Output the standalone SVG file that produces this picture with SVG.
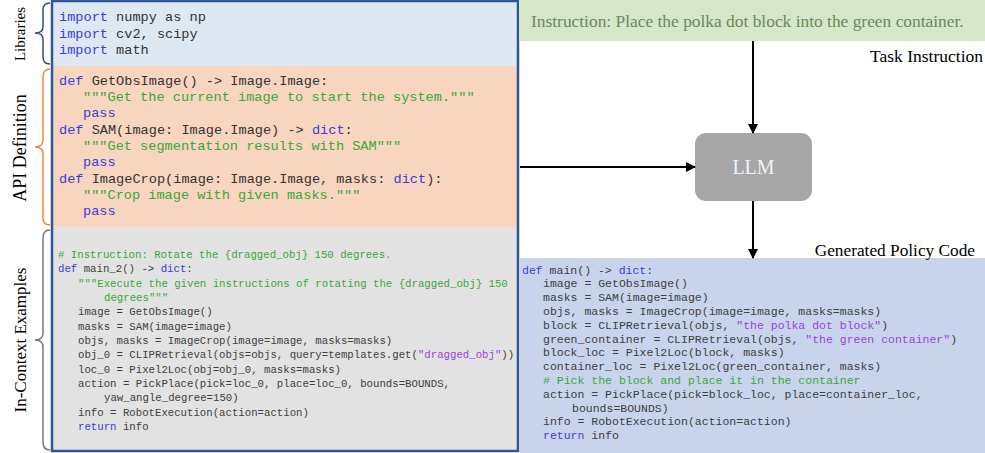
<svg xmlns="http://www.w3.org/2000/svg" width="985" height="453" viewBox="0 0 985 453">
<defs>
<marker id="ah" markerWidth="10" markerHeight="10" refX="9" refY="5" orient="auto" markerUnits="userSpaceOnUse"><path d="M0,0 L10,5 L0,10 Z" fill="#000"/></marker>
<style>
.lbl{font-family:"Liberation Serif",serif;fill:#000}
.c1{font-family:"Liberation Mono",monospace;font-size:13.6px;fill:#333}
.c2{font-family:"Liberation Mono",monospace;font-size:10.7px;fill:#404040}
.c3{font-family:"Liberation Mono",monospace;font-size:11.5px;fill:#404040}
.k{fill:#3c3cd8}
.s{fill:#3aa83a}
.p{fill:#a040e0}
.edge{stroke:#000;stroke-width:2;fill:none;marker-end:url(#ah)}
</style>
</defs>
<rect width="985" height="453" fill="#fff"/>

<g id="libraries">
<rect x="52" y="1" width="466" height="65" fill="#dde8f3"/>
<path d="M50,3 Q43,3 43,10 L43,27 Q43,33 35,33 Q43,33 43,39 L43,57 Q43,64 50,64" fill="none" stroke="#2f4f7f" stroke-width="1.5"/>
<text class="lbl" font-size="15" transform="translate(25,34) rotate(-90)" text-anchor="middle">Libraries</text>
<text class="c1" x="59" y="21"><tspan class="k">import</tspan> numpy as np</text>
<text class="c1" x="59" y="37.5"><tspan class="k">import</tspan> cv2, scipy</text>
<text class="c1" x="59" y="54"><tspan class="k">import</tspan> math</text>
</g>

<g id="api">
<rect x="52" y="66" width="466" height="161" fill="#f8d5bf"/>
<path d="M50,69 Q43,69 43,77 L43,140 Q43,147 35,147 Q43,147 43,154 L43,218 Q43,225 50,225" fill="none" stroke="#f08a3c" stroke-width="1.5"/>
<text class="lbl" font-size="18" transform="translate(26,148) rotate(-90)" text-anchor="middle">API Definition</text>
<text class="c1" x="59" y="84.5"><tspan class="k">def</tspan> GetObsImage() -&gt; Image.Image:</text>
<text class="c1 s" x="83" y="101">"""Get the current image to start the system."""</text>
<text class="c1 k" x="83" y="117">pass</text>
<text class="c1" x="59" y="133.5"><tspan class="k">def</tspan> SAM(image: Image.Image) -&gt; <tspan class="k">dict</tspan>:</text>
<text class="c1 s" x="83" y="150">"""Get segmentation results with SAM"""</text>
<text class="c1 k" x="83" y="166">pass</text>
<text class="c1" x="59" y="182.5"><tspan class="k">def</tspan> ImageCrop(image: Image.Image, masks: <tspan class="k">dict</tspan>):</text>
<text class="c1 s" x="83" y="199">"""Crop image with given masks."""</text>
<text class="c1 k" x="83" y="215">pass</text>
</g>

<g id="incontext">
<rect x="52" y="227" width="466" height="224" fill="#e2e2e2"/>
<path d="M50,230 Q43,230 43,238 L43,333 Q43,340 35,340 Q43,340 43,347 L43,442 Q43,450 50,450" fill="none" stroke="#777" stroke-width="1.5"/>
<text class="lbl" font-size="17" transform="translate(26,340) rotate(-90)" text-anchor="middle">In-Context Examples</text>
<text class="c2 s" x="58" y="257.5"># Instruction: Rotate the {dragged_obj} 150 degrees.</text>
<text class="c2" x="58" y="272"><tspan class="k">def</tspan> main_2() -&gt; <tspan class="k">dict</tspan>:</text>
<text class="c2 s" x="78" y="286.5">"""Execute the given instructions of rotating the {dragged_obj} 150</text>
<text class="c2 s" x="104" y="301">degrees"""</text>
<text class="c2" x="78" y="315">image = GetObsImage()</text>
<text class="c2" x="78" y="329.5">masks = SAM(image=image)</text>
<text class="c2" x="78" y="344">objs, masks = ImageCrop(image=image, masks=masks)</text>
<text class="c2" x="78" y="358">obj_0 = CLIPRetrieval(objs=objs, query=templates.get(<tspan class="p">"dragged_obj"</tspan>))</text>
<text class="c2" x="78" y="372.5">loc_0 = Pixel2Loc(obj=obj_0, masks=masks)</text>
<text class="c2" x="78" y="387">action = PickPlace(pick=loc_0, place=loc_0, bounds=BOUNDS,</text>
<text class="c2" x="104" y="401">yaw_angle_degree=150)</text>
<text class="c2" x="78" y="415.5">info = RobotExecution(action=action)</text>
<text class="c2" x="78" y="430"><tspan class="k">return</tspan> info</text>
</g>

<rect x="52" y="1" width="466" height="450" fill="none" stroke="#2f5597" stroke-width="2.5"/>

<g id="instruction">
<rect x="519" y="0" width="466" height="41" fill="#d5e6c9"/>
<text x="531" y="27" font-family="Liberation Serif,serif" font-size="17.4" fill="#6b8a5a">Instruction: Place the polka dot block into the green container.</text>
<text class="lbl" x="983" y="62" font-size="17.5" text-anchor="end">Task Instruction</text>
</g>

<g id="llm">
<rect x="695" y="133" width="117" height="68" rx="11" fill="#a6a6a6"/>
<text x="753.5" y="174" font-family="Liberation Serif,serif" font-size="20" fill="#f2f2f2" text-anchor="middle">LLM</text>
</g>

<g id="policy">
<rect x="519" y="258" width="466" height="195" fill="#c7d4ec"/>
<text class="lbl" x="975" y="256" font-size="17.3" text-anchor="end">Generated Policy Code</text>
<text class="c3" x="522" y="274"><tspan class="k">def</tspan> main() -&gt; <tspan class="k">dict</tspan>:</text>
<text class="c3" x="543" y="287">image = GetObsImage()</text>
<text class="c3" x="543" y="301">masks = SAM(image=image)</text>
<text class="c3" x="543" y="315">objs, masks = ImageCrop(image=image, masks=masks)</text>
<text class="c3" x="543" y="329">block = CLIPRetrieval(objs, <tspan class="p">"the polka dot block"</tspan>)</text>
<text class="c3" x="543" y="343">green_container = CLIPRetrieval(objs, <tspan class="p">"the green container"</tspan>)</text>
<text class="c3" x="543" y="356">block_loc = Pixel2Loc(block, masks)</text>
<text class="c3" x="543" y="370">container_loc = Pixel2Loc(green_container, masks)</text>
<text class="c3 s" x="543" y="384"># Pick the block and place it in the container</text>
<text class="c3" x="543" y="398">action = PickPlace(pick=block_loc, place=container_loc,</text>
<text class="c3" x="572" y="412">bounds=BOUNDS)</text>
<text class="c3" x="543" y="425">info = RobotExecution(action=action)</text>
<text class="c3" x="543" y="439"><tspan class="k">return</tspan> info</text>
</g>

<g id="connectors">
<line class="edge" x1="753" y1="41" x2="753" y2="133"/>
<line class="edge" x1="520" y1="167" x2="695" y2="167"/>
<line class="edge" x1="753" y1="201" x2="753" y2="258"/>
</g>
</svg>
